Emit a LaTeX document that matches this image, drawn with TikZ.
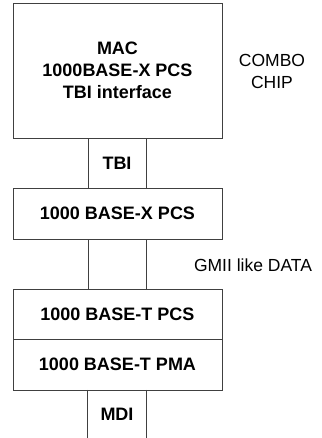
\documentclass[tikz,border=0pt]{standalone}
\usepackage{fontspec}
\setmainfont{Liberation Sans}
\begin{document}
\begin{tikzpicture}
  [x=1pt,y=-1pt,every node/.style={font=\fontsize{18}{22}\selectfont\bfseries,align=center,inner sep=0pt}]
  \tikzstyle{block} = [draw=black!75,line width=0.9pt,shape=rectangle,minimum width=209pt]
  \tikzstyle{link} = [draw=black!75,line width=0.9pt,shape=rectangle,minimum width=58pt,minimum height=50pt]
  \tikzstyle{note} = [font=\fontsize{17.5}{22}\selectfont]
  \useasboundingbox (0,0) rectangle (321,438);
  \node[block,minimum height=135pt] (mac) at (117.5,70.5) {MAC\\1000BASE-X PCS\\TBI interface};
  \node[link] (tbi) at (117,163) {TBI};
  \node[block,minimum height=51pt] (xpcs) at (117.5,213.5) {1000 BASE-X PCS};
  \node[link] (gmii) at (117,264) {};
  \node[block,minimum height=50pt] (tpcs) at (117.5,314) {1000 BASE-T PCS};
  \node[block,minimum height=51pt] (tpma) at (117.5,364.5) {1000 BASE-T PMA};
  \node[minimum width=58pt,minimum height=48pt] (mdi) at (117,414) {MDI};
  \foreach \side in {west,east}
    \draw[black!75,line width=0.9pt] (mdi.north \side) -- (mdi.south \side);
  \node[note] (combo) at (272,71) {COMBO\\CHIP};
  \node[note] (data) at (253,265) {GMII like DATA};
\end{tikzpicture}
\end{document}
